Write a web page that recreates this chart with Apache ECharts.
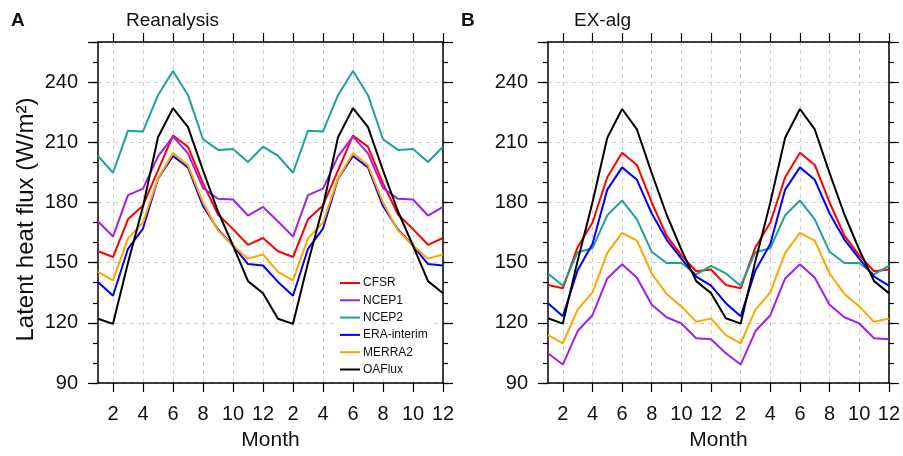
<!DOCTYPE html>
<html>
<head>
<meta charset="utf-8">
<script src="https://cdn.jsdelivr.net/npm/echarts@6/dist/echarts.min.js"></script>
<style>
  html, body { margin: 0; padding: 0; background: #fff; }
  #chart { width: 903px; height: 456px; }
</style>
</head>
<body>
<div id="chart"></div>
<script>
// months shown twice along the x axis
const months = [1, 2, 3, 4, 5, 6, 7, 8, 9, 10, 11, 12];

const seriesNames = ['CFSR', 'NCEP1', 'NCEP2', 'ERA-interim', 'MERRA2', 'OAFlux'];
const seriesColors = ['#ff0000', '#a020f0', '#20a09a', '#0000ff', '#ffa500', '#000000'];

// A: Reanalysis
const reCFSR   = [155.7, 152.8, 171.6, 178.5, 196.0, 213.4, 207.7, 189.5, 174.0, 166.7, 158.9, 162.3];
const reNCEP1  = [170.5, 163.0, 183.7, 186.9, 203.0, 212.8, 204.5, 187.2, 181.8, 181.5, 173.5, 177.8];
const reNCEP2  = [203.2, 194.8, 215.8, 215.4, 233.5, 245.5, 233.5, 211.5, 206.2, 206.6, 200.2, 207.8];
const reERA    = [140.4, 133.5, 156.9, 167.0, 191.8, 203.2, 197.5, 178.2, 166.5, 158.5, 149.3, 148.6];
const reMERRA2 = [145.4, 141.2, 162.1, 170.0, 192.0, 204.6, 198.5, 180.0, 166.0, 158.5, 152.0, 154.1];
const reOAFlux = [122.0, 119.5, 150.0, 178.0, 212.5, 227.0, 217.6, 196.0, 175.5, 158.5, 140.8, 134.7];

// B: EX-alg
const exCFSR   = [138.9, 137.2, 157.7, 170.0, 192.6, 204.8, 198.7, 180.0, 163.5, 153.6, 145.7, 146.6];
const exNCEP1  = [104.8,  99.2, 115.9, 123.8, 142.1, 149.2, 142.5, 129.0, 122.8, 119.7, 112.3, 111.8];
const exNCEP2  = [144.6, 138.5, 155.2, 157.2, 173.6, 181.0, 171.6, 155.4, 149.8, 149.8, 144.1, 148.4];
const exERA    = [129.8, 123.3, 146.2, 159.3, 186.4, 197.5, 191.3, 174.5, 161.5, 152.0, 143.0, 138.5];
const exMERRA2 = [113.9, 109.8, 126.6, 135.2, 154.9, 164.8, 161.0, 144.6, 134.4, 128.2, 120.5, 122.1];
const exOAFlux = [122.3, 119.6, 151.0, 180.0, 212.3, 226.6, 216.4, 194.6, 174.0, 156.5, 140.8, 134.8];

const panelA = [reCFSR, reNCEP1, reNCEP2, reERA, reMERRA2, reOAFlux];
const panelB = [exCFSR, exNCEP1, exNCEP2, exERA, exMERRA2, exOAFlux];

const FONT = "'Liberation Sans', Arial, Helvetica, sans-serif";
const TXT = '#111';

// 24 positions along x, labelled with month numbers
const xCats = months.concat(months.map(m => m + 12)).map(String);
const everyOther = (i) => i % 2 === 1;

function xAxes(g) {
  const base = {
    type: 'category', gridIndex: g, data: xCats, boundaryGap: false,
    axisLine: { show: true, lineStyle: { color: '#000', width: 1.5 } },
    axisTick: { show: true, interval: everyOther, length: 9, lineStyle: { color: '#000', width: 1.2 } }
  };
  return [
    Object.assign({}, base, {
      position: 'bottom',
      axisLabel: {
        interval: everyOther, margin: 21, fontSize: 20, color: TXT, fontFamily: FONT,
        formatter: v => ((+v - 1) % 12) + 1
      },
      splitLine: { show: true, interval: everyOther, lineStyle: { type: [4, 4], color: '#cfcfcf', width: 1 } },
      name: 'Month', nameLocation: 'middle', nameGap: 47,
      nameTextStyle: { fontSize: 21, color: TXT, fontFamily: FONT }
    }),
    Object.assign({}, base, {
      position: 'top',
      axisLabel: { show: false },
      splitLine: { show: false }
    })
  ];
}

function yAxes(g, withName) {
  const common = { type: 'value', gridIndex: g, min: 90, max: 260 };
  const major = {
    interval: 30,
    axisLine: { show: true, lineStyle: { color: '#000', width: 1.5 } },
    axisTick: { show: true, length: 10, lineStyle: { color: '#000', width: 1.2 } }
  };
  const minor = {
    interval: 10,
    axisLine: { show: false },
    axisTick: { show: true, length: 5, lineStyle: { color: '#000', width: 1.2 } },
    axisLabel: { show: false },
    splitLine: { show: false }
  };
  const left = Object.assign({}, common, major, {
    position: 'left',
    axisLabel: {
      margin: 20, fontSize: 20, color: TXT, fontFamily: FONT,
      formatter: v => (v > 245 ? '' : v)
    },
    splitLine: { show: true, lineStyle: { type: [4, 4], color: '#cfcfcf', width: 1 } }
  });
  if (withName) {
    left.name = 'Latent heat flux (W/m²)';
    left.nameLocation = 'middle';
    left.nameGap = 60;
    left.nameTextStyle = { fontSize: 24, color: TXT, fontFamily: FONT, padding: [0, 14, 0, 0] };
  }
  return [
    left,
    Object.assign({}, common, minor, { position: 'left' }),
    Object.assign({}, common, major, { position: 'right', axisLabel: { show: false }, splitLine: { show: false } }),
    Object.assign({}, common, minor, { position: 'right' })
  ];
}

function panelSeries(data, xi, yi) {
  return data.map((vals, k) => ({
    name: seriesNames[k],
    type: 'line',
    xAxisIndex: xi,
    yAxisIndex: yi,
    data: vals.concat(vals),
    symbol: 'none',
    silent: true,
    z: 3,
    lineStyle: { color: seriesColors[k], width: 2 },
    itemStyle: { color: seriesColors[k] }
  }));
}

const titleBig = { fontSize: 19, color: TXT, fontFamily: FONT, fontWeight: 'bold' };
const titleNorm = { fontSize: 19, color: TXT, fontFamily: FONT, fontWeight: 'normal' };

const chart = echarts.init(document.getElementById('chart'), null, { renderer: 'canvas' });

const option = {
  animation: false,
  backgroundColor: '#fff',
  title: [
    { text: 'A', left: 11, top: 11, padding: 0, textStyle: titleBig },
    { text: 'Reanalysis', left: 126, top: 11, padding: 0, textStyle: titleNorm },
    { text: 'B', left: 461, top: 11, padding: 0, textStyle: titleBig },
    { text: 'EX-alg', left: 574, top: 11, padding: 0, textStyle: titleNorm }
  ],
  grid: [
    { left: 98, top: 42, width: 345, height: 343 },
    { left: 548, top: 42, width: 345, height: 343 }
  ],
  legend: {
    data: seriesNames,
    orient: 'vertical',
    left: 336,
    top: 272,
    z: 2,
    icon: 'rect',
    itemWidth: 20,
    itemHeight: 2,
    itemGap: 3.3,
    padding: [4, 2, 3, 4],
    backgroundColor: '#fff',
    selectedMode: false,
    textStyle: { fontSize: 12, lineHeight: 14, color: TXT, fontFamily: FONT, padding: [0, 0, 0, -2] }
  },
  xAxis: xAxes(0).concat(xAxes(1)),
  yAxis: yAxes(0, true).concat(yAxes(1, false)),
  series: panelSeries(panelA, 0, 0).concat(panelSeries(panelB, 2, 4))
};

chart.setOption(option);
window.addEventListener('resize', () => chart.resize());
</script>
</body>
</html>
